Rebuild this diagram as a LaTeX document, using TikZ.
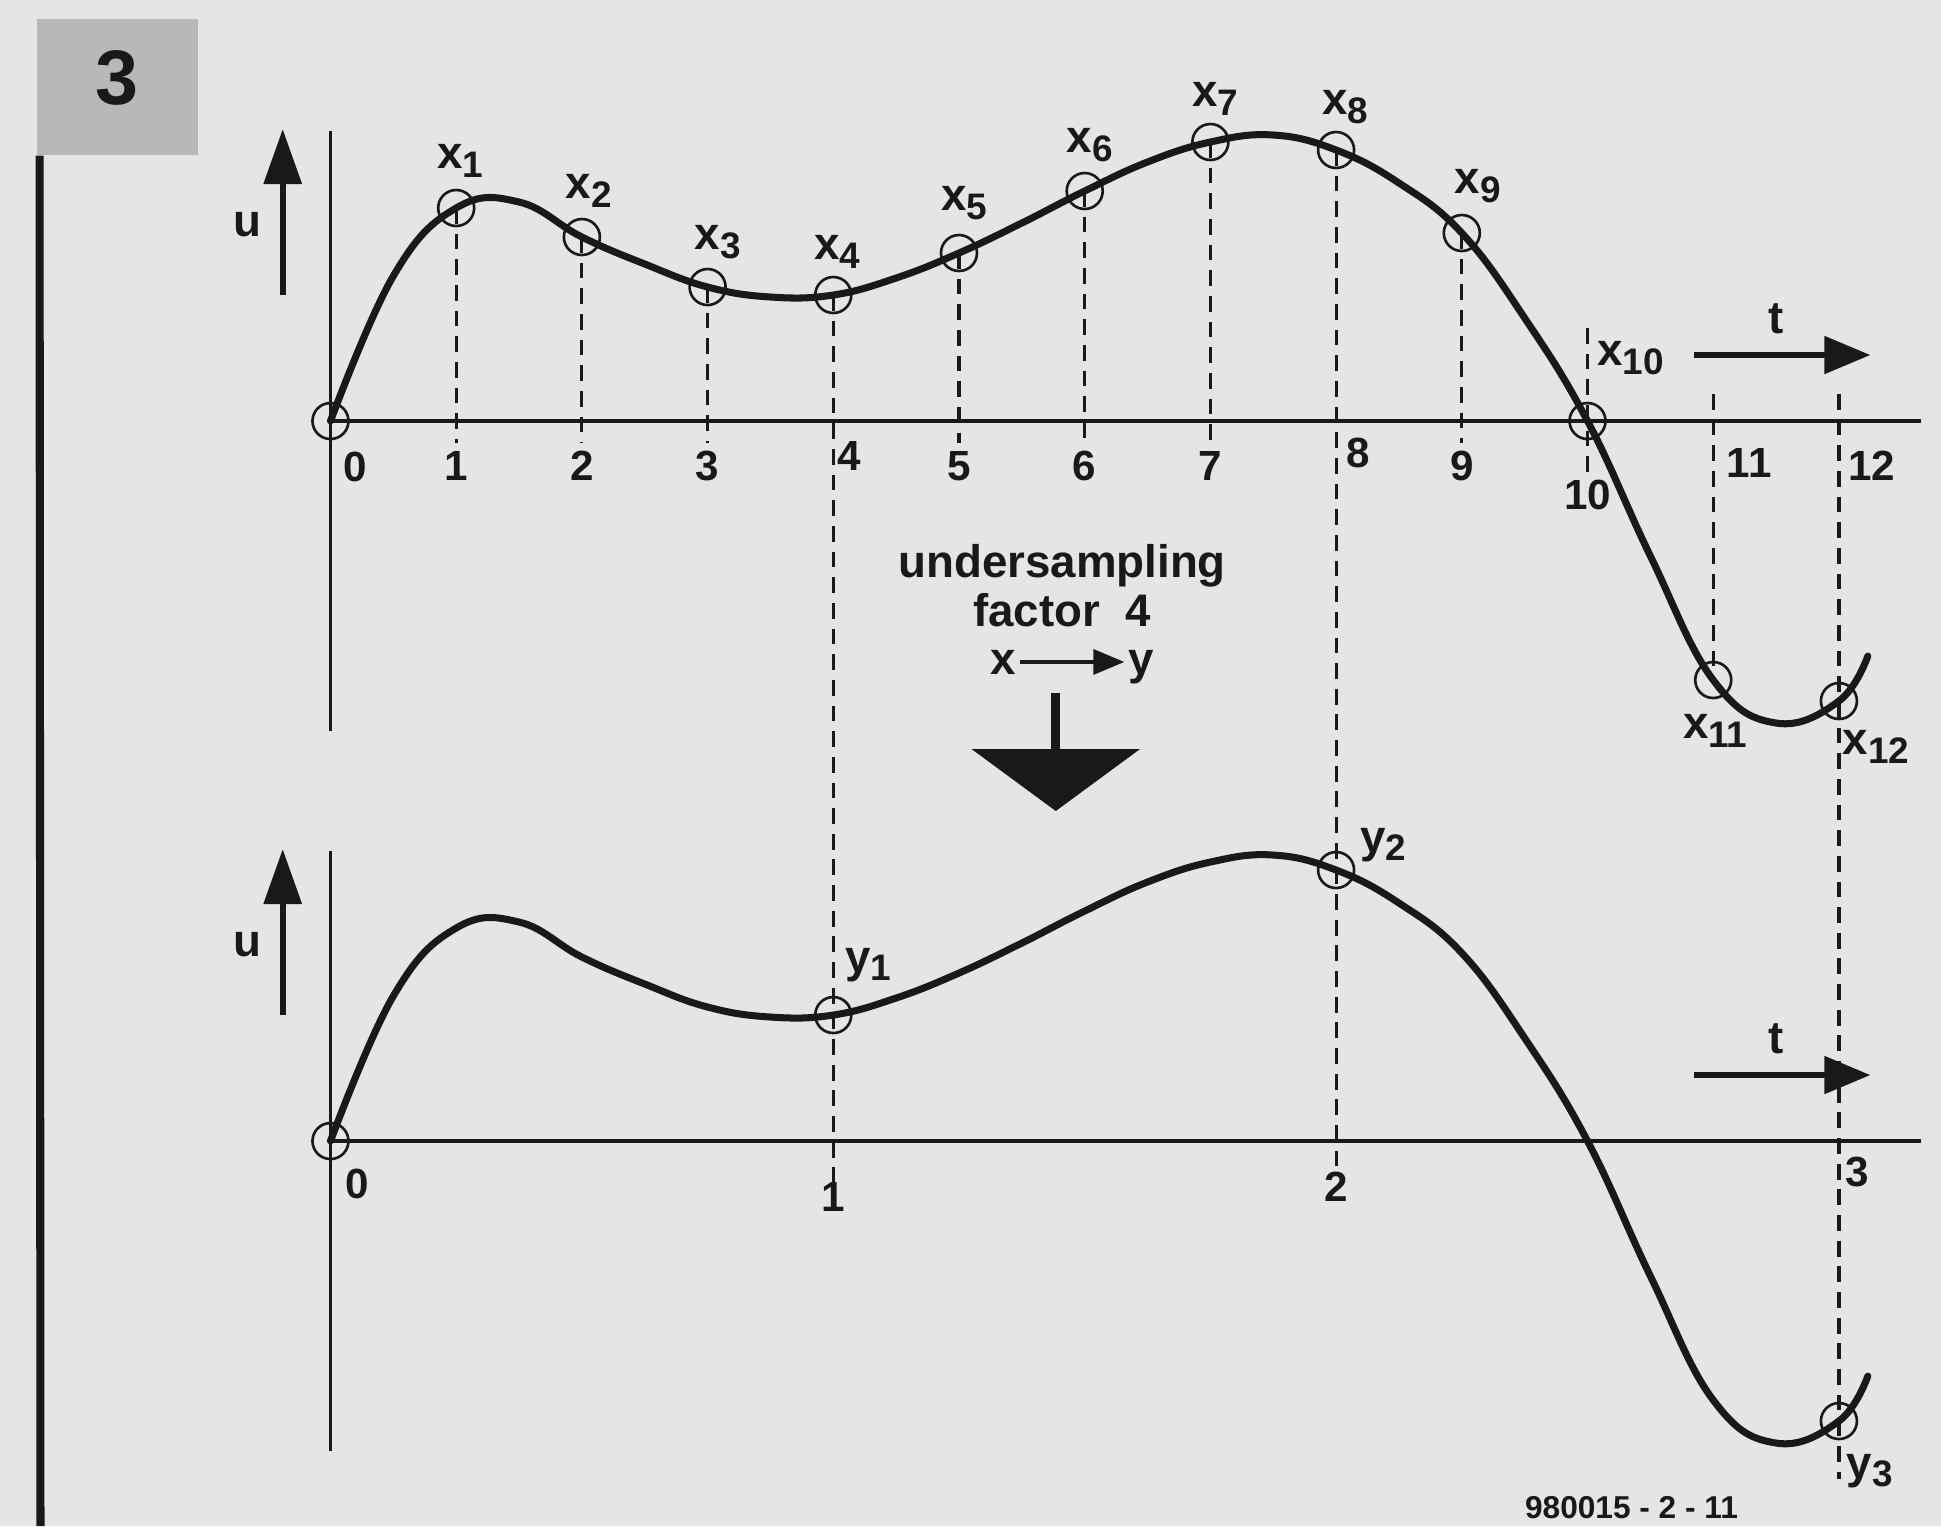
\documentclass[tikz,border=0pt]{standalone}
\usepackage{fontspec}
\setmainfont{Liberation Sans}
\usepackage{tikz}
\usetikzlibrary{arrows.meta, calc, positioning}

\definecolor{paper}{gray}{0.9}
\definecolor{ink}{gray}{0.1}
\definecolor{boxgray}{gray}{0.72}

% sample name with a lowered index
\newcommand{\smp}[2]{#1\raisebox{-0.35ex}{\fontsize{10.5}{11}\selectfont #2}}

\begin{document}
\begin{tikzpicture}[x=1.257cm, y=1cm, color=ink,
    signal/.style={line width=2pt, line cap=round, line join=round},
    axis/.style={line width=1.1pt},
    sampleline/.style={line width=0.9pt, dash pattern=on 4.5pt off 2.8pt},
    sample/.style={circle, draw, line width=0.75pt, minimum size=3.6mm, inner sep=0pt},
    lbl/.style={font=\bfseries\fontsize{13}{15}\selectfont, inner sep=1pt},
    num/.style={font=\bfseries\fontsize{12}{14}\selectfont, inner sep=1pt},
    uarrow/.style={line width=1.8pt, -{Triangle[width=3.7mm, length=5.5mm]}},
    tarrow/.style={line width=1.5pt, -{Triangle[width=3.7mm, length=4.6mm]}},
]
    % paper and frame of the figure
    \fill[paper] (-2.629,-11.05) rectangle (12.812,4.21);
    \useasboundingbox (-2.629,-11.05) rectangle (12.812,4.21);

    % figure number and side bar
    \node[fill=boxgray, minimum width=1.61cm, minimum height=1.36cm, text depth=0.2cm,
          font=\bfseries\fontsize{22}{24}\selectfont] (fig) at (-1.695,3.34) {3};
    \coordinate (bartop) at ($(fig.south west)+(0.027,0)$);
    \coordinate (barend) at (-2.307,-11.05);
    \draw[line width=2.3pt] (bartop) -- (barend);

    % sample values x0 ... x12
    \foreach \i/\h in {0/0, 1/2.13, 2/1.84, 3/1.34, 4/1.26, 5/1.68, 6/2.30,
                       7/2.79, 8/2.71, 9/1.88, 10/0, 11/-2.59, 12/-2.80}
        \coordinate (x\i) at (\i,\h);

    % both plots: axes, u and t arrows, signal
    \foreach \s/\k in {0/top, -7.2/bot} {
        \draw[axis] (0,\s-3.1) -- (0,\s+2.9);
        \draw[axis] (0,\s) -- (12.65,\s);
        \coordinate (ua\k) at (-0.38,\s+1.26);
        \coordinate (ub\k) at (-0.38,\s+2.92);
        \draw[uarrow] (ua\k) -- (ub\k);
        \node[lbl] (u\k) at (-0.66,\s+1.96) {u};
        \node[lbl] (t\k) at (11.5,\s+1.02) {t};
        \coordinate (ta\k) at (10.85,\s+0.66);
        \coordinate (tb\k) at (12.25,\s+0.66);
        \draw[tarrow] (ta\k) -- (tb\k);
        \draw[signal, yshift=\s cm] plot[smooth, tension=0.7] coordinates {
            (0,0) (0.5,1.45) (1,2.13) (1.5,2.19) (2,1.84) (2.5,1.57)
            (3,1.34) (3.5,1.24) (4,1.26) (4.5,1.43) (5,1.68) (5.5,1.98) (6,2.30)
            (6.5,2.59) (7,2.79) (7.5,2.86) (8,2.71) (8.5,2.38) (9,1.88) (9.5,1.03)
            (10,0) (10.5,-1.35) (11,-2.59) (11.5,-3.02) (12,-2.80) (12.23,-2.35)};
    }

    % undersampled values y1 ... y3
    \coordinate (y0) at (0,-7.2);
    \foreach \i/\j in {4/1, 8/2, 12/3}
        \coordinate (y\j) at ($(x\i)+(0,-7.2)$);

    % dashed sample lines
    \foreach \i in {1,2,3,5,6,7,9} {
        \coordinate (e\i) at (\i,-0.22);
        \draw[sampleline] (x\i) -- (e\i);
    }
    \coordinate (e4) at (4,-7.9);
    \coordinate (e8) at (8,-7.47);
    \draw[sampleline] (x4) -- (e4);
    \draw[sampleline] (x8) -- (e8);
    \coordinate (s10) at (10,0.93);
    \coordinate (e10) at (10,-0.53);
    \draw[sampleline] (s10) -- (e10);
    \coordinate (s11) at (11,0.27);
    \draw[sampleline] (s11) -- (x11);
    \coordinate (s12) at (12,0.27);
    \coordinate (e12) at (12,-10.58);
    \draw[sampleline] (s12) -- (e12);

    % sample circles
    \foreach \i in {0,...,12}
        \node[sample] (cx\i) at (x\i) {};
    \foreach \j in {0,...,3}
        \node[sample] (cy\j) at (y\j) {};

    % sample names
    \foreach \i/\ox/\oy in {1/.04/.47, 2/.07/.46, 3/.10/.45, 4/.04/.43, 5/.05/.50,
                            6/.05/.46, 7/.05/.43, 8/.09/.43, 9/.16/.47, 10/.43/.63,
                            11/.02/-.51, 12/.37/-.46}
        \node[lbl, xshift=\ox cm, yshift=\oy cm] (lx\i) at (x\i) {\smp{x}{\i}};
    \foreach \j/\ox/\oy in {1/.35/.50, 2/.47/.25, 3/.31/-.50}
        \node[lbl, xshift=\ox cm, yshift=\oy cm] (ly\j) at (y\j) {\smp{y}{\j}};

    % time axis numbers, upper plot
    \node[num, xshift=.25cm, yshift=-.46cm] (n0) at (x0) {0};
    \foreach \i in {1,2,3,5,6,7,9}
        \node[num] (n\i) at (\i,-0.45) {\i};
    \node[num, xshift=.16cm] (n4) at (4,-0.35) {4};
    \node[num, xshift=.22cm] (n8) at (8,-0.32) {8};
    \node[num] (n10) at (10,-0.74) {10};
    \node[num, xshift=.36cm] (n11) at (11,-0.42) {11};
    \node[num, xshift=.33cm] (n12) at (12,-0.45) {12};

    % time axis numbers, lower plot
    \node[num, xshift=.27cm, yshift=-.43cm] (m0) at (y0) {0};
    \node[num] (m1) at (4,-7.76) {1};
    \node[num] (m2) at (8,-7.66) {2};
    \node[num, xshift=.18cm] (m3) at (12,-7.51) {3};

    % undersampling note
    \node[lbl, align=center, font=\bfseries\fontsize{13}{14}\selectfont] (usf)
        at (5.82,-1.645) {undersampling\\factor\ \ 4};
    \node[lbl, anchor=base] (xin) at (5.35,-2.53) {x};
    \node[lbl, anchor=base] (yout) at (6.45,-2.53) {y};
    \draw[line width=1pt, -{Triangle[width=2.5mm, length=3.1mm]}] (xin.east) -- (xin.east -| yout.west);
    \coordinate (dna) at (5.77,-2.72);
    \coordinate (dnb) at (5.77,-3.90);
    \draw[line width=2.5pt, -{Triangle[width=16.7mm, length=6.2mm]}] (dna) -- (dnb);

    \node[font=\bfseries\fontsize{9}{10}\selectfont] (code) at (10.35,-10.87) {980015 - 2 - 11};
\end{tikzpicture}
\end{document}
